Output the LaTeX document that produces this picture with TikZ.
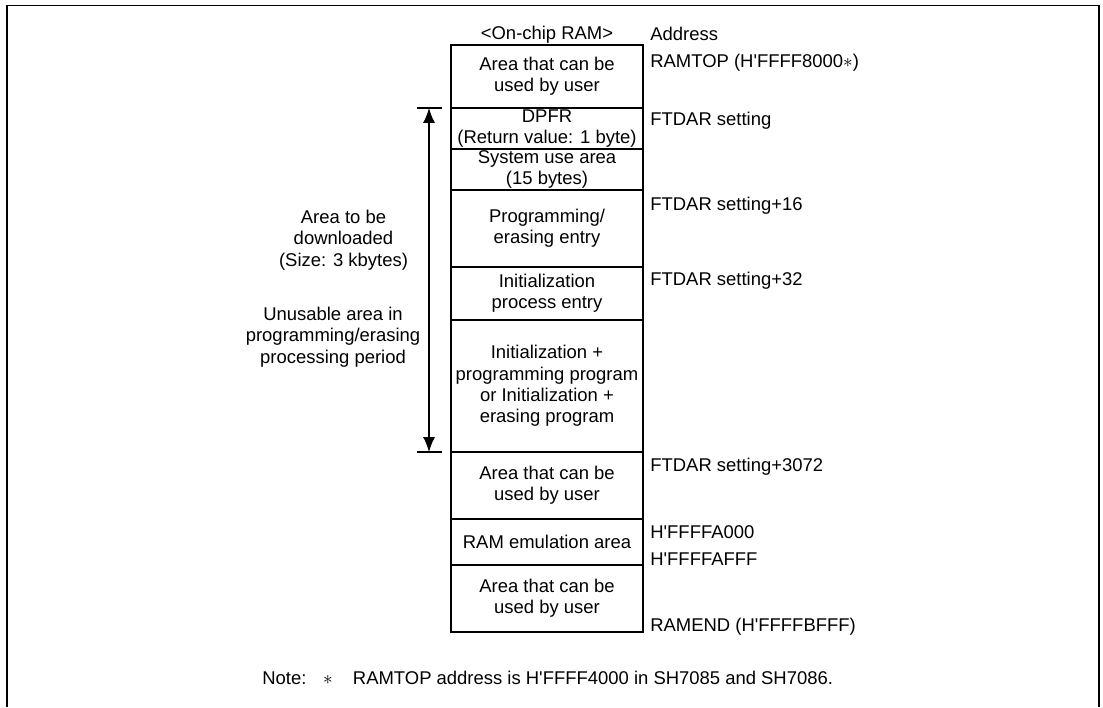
\documentclass[tikz,border=0pt]{standalone}
\usepackage{fontspec}
\setmainfont{Liberation Sans}
\usepackage{tikz}
\usetikzlibrary{arrows.meta,calc}
\newcommand{\hq}{H\textquotesingle}
\tikzset{
  txt/.style={font=\fontsize{10.5}{12.2}\selectfont,inner sep=0pt,align=center},
  cell/.style={txt,draw,line width=0.6pt,minimum width=3.84cm,outer sep=0pt},
  addr/.style={txt,anchor=base west},
  dimarr/.style={{Latex[length=0.3cm,width=0.24cm]}-{Latex[length=0.3cm,width=0.24cm]},line width=0.7pt},
  tick/.style={line width=0.7pt},
  frame/.style={line width=1pt},
}
\begin{document}
\begin{tikzpicture}
  \useasboundingbox (0,0) rectangle (22.06,14.14);
  % frame, open at the bottom
  \draw[frame] (0.14,0) -- (0.14,14.03) -- (21.98,14.03) -- (21.98,0);
  % on-chip RAM column
  \node[txt,anchor=base] (title) at (10.94,13.34) {<On-chip RAM>};
  \node[cell,minimum height=1.26cm] (c1) at (10.94,12.61) {Area that can be\\used by user};
  \node[cell,minimum height=0.82cm] (c2) at (10.94,11.57) {DPFR\\(Return value: 1 byte)};
  \node[cell,minimum height=0.82cm] (c3) at (10.94,10.75) {System use area\\(15 bytes)};
  \node[cell,minimum height=1.54cm] (c4) at (10.94,9.57) {Programming/\\erasing entry};
  \node[cell,minimum height=1.06cm] (c5) at (10.94,8.27) {Initialization\\process entry};
  \node[cell,minimum height=2.64cm] (c6) at (10.94,6.42) {Initialization +\\programming program\\or Initialization +\\erasing program};
  \node[cell,minimum height=1.34cm] (c7) at (10.94,4.43) {Area that can be\\used by user};
  \node[cell,minimum height=0.92cm] (c8) at (10.94,3.30) {RAM emulation area};
  \node[cell,minimum height=1.34cm] (c9) at (10.94,2.17) {Area that can be\\used by user};
  % addresses
  \node[addr] (aHead) at (13.0,13.32) {Address};
  \node[addr] (aTop) at (13.0,12.78) {RAMTOP (\hq FFFF8000$\ast$)};
  \node[addr] (aFt) at (13.0,11.62) {FTDAR setting};
  \node[addr] (aFt16) at (13.0,9.92) {FTDAR setting+16};
  \node[addr] (aFt32) at (13.0,8.42) {FTDAR setting+32};
  \node[addr] (aFt3072) at (13.0,4.72) {FTDAR setting+3072};
  \node[addr] (aEmuS) at (13.0,3.38) {\hq FFFFA000};
  \node[addr] (aEmuE) at (13.0,2.84) {\hq FFFFAFFF};
  \node[addr] (aEnd) at (13.0,1.52) {RAMEND (\hq FFFFBFFF)};
  % download range
  \coordinate (dtop) at (8.58,11.98);
  \coordinate (dbot) at (8.58,5.10);
  \draw[tick] ($(dtop)+(-0.24,0)$) -- ++(0.5,0);
  \draw[tick] ($(dbot)+(-0.24,0)$) -- ++(0.5,0);
  \draw[dimarr] (dtop) -- (dbot);
  \node[txt] (dl) at (6.87,9.34) {Area to be\\downloaded\\(Size: 3 kbytes)};
  \node[txt] (unus) at (6.66,7.40) {Unusable area in\\programming/erasing\\processing period};
  % footnote
  \node[txt,anchor=base west] (note) at (5.24,0.46) {Note:\hspace{0.9em}$\ast$\hspace{1.1em}RAMTOP address is \hq FFFF4000 in SH7085 and SH7086.};
\end{tikzpicture}
\end{document}
